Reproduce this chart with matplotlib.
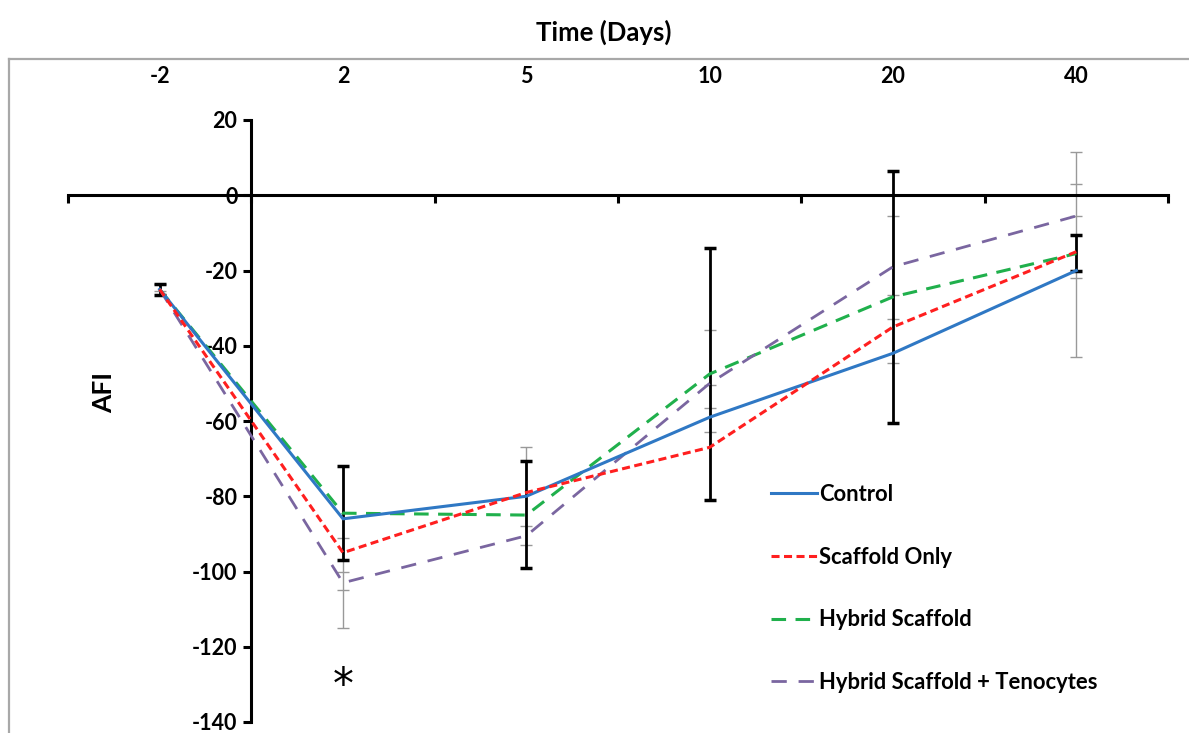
import matplotlib
matplotlib.use('Agg')
import matplotlib.pyplot as plt
import numpy as np

plt.rcParams['font.family'] = ['Lato', 'DejaVu Sans']
plt.rcParams['font.weight'] = 'bold'
plt.rcParams['axes.unicode_minus'] = False
plt.rcParams['lines.scale_dashes'] = False

# 数据
days = ['-2', '2', '5', '10', '20', '40']
control = [-25, -86, -80, -59, -42, -20]
scaffold_only = [-25, -95, -79, -67, -35, -15]
hybrid = [-25, -84.5, -85, -47.5, -27, -15.5]
hybrid_teno = [-25, -103, -90.5, -50, -19, -5.5]

# 误差线 (黑色粗线 / 灰色细线)
black_hi = [-23.5, -72, -70.5, -14, 6.5, -10.5]
black_lo = [-26.5, -97, -99, -81, -60.5, -20]
gray_hi = [-23.5, -91, -66.8, -35.7, -5.5, 11.6]
gray_lo = [-25.5, -115, -93, -63, -44.7, -43]
gray_caps = [[], [-100, -105], [-88], [-50.3, -56.6], [-26.5, -33], [2.9, -5.5, -22]]

W, H = 1189, 733
fig = plt.figure(figsize=(W / 100, H / 100), dpi=100)
ax = fig.add_axes([68 / W, 11 / H, 1100 / W, 602 / H])

x = np.arange(len(days))

# 误差线
ax.vlines(x, gray_lo, gray_hi, color='#999999', lw=1.0, zorder=2)
for i, caps in enumerate(gray_caps):
    vals = [gray_lo[i], gray_hi[i]] + caps
    ax.plot([x[i]] * len(vals), vals, ls='none', marker='_', ms=8, mew=1.0,
            color='#999999', zorder=2)
ax.vlines(x, black_lo, black_hi, color='black', lw=2.0, zorder=3)
ax.plot(x, black_hi, ls='none', marker='_', ms=8, mew=2.5, color='black', zorder=3)
ax.plot(x, black_lo, ls='none', marker='_', ms=8, mew=2.5, color='black', zorder=3)

# 折线
ax.plot(x, control, color='#2F78C4', lw=2.2, label='Control', zorder=5)
ax.plot(x, scaffold_only, color='#FF1F1F', lw=2.2, dashes=(5.8, 3.2),
        label='Scaffold Only', zorder=5)
ax.plot(x, hybrid, color='#20B04C', lw=2.2, dashes=(10.5, 6.8),
        label='Hybrid Scaffold', zorder=4)
ax.plot(x, hybrid_teno, color='#7A66A0', lw=2.0, dashes=(11, 8.5),
        label='Hybrid Scaffold + Tenocytes', zorder=4)

ax.set_xlim(-0.5, len(days) - 0.5)
ax.set_ylim(-140, 20)

# 坐标轴样式
for s in ['top', 'right']:
    ax.spines[s].set_visible(False)
ax.spines['left'].set_position(('data', 0.5))
ax.spines['bottom'].set_position(('data', 0))
ax.spines['left'].set_linewidth(2.2)
ax.spines['bottom'].set_linewidth(2.2)

ax.set_yticks(np.arange(-140, 21, 20))
ax.tick_params(axis='y', direction='out', length=6, width=2.2, pad=4,
               labelsize=15.5)

ax.set_xticks(np.arange(-0.5, len(days), 1.0))
ax.set_xticklabels([])
ax.tick_params(axis='x', which='major', direction='out', length=6, width=2.2)
ax.set_xticks(x, minor=True)
ax.set_xticklabels(days, minor=True)
ax.tick_params(axis='x', which='minor', bottom=False, top=False,
               labelbottom=False, labeltop=True, length=0, pad=24, labelsize=15.5)

# 星号
ax.text(1, -130.5, '*', ha='center', va='center', fontsize=30,
        family='DejaVu Sans', fontweight='normal')

# 标题与轴标签
fig.text(604 / W, 1 - 32 / H, 'Time (Days)', ha='center', va='center', fontsize=18.5)
fig.text(104 / W, 1 - 392 / H, 'AFI', ha='center', va='center', fontsize=19,
         rotation=90)

# 图例
ax.legend(loc='upper left', bbox_to_anchor=(760 / W, 1 - 473 / H),
          bbox_transform=fig.transFigure, frameon=False, fontsize=15.8,
          handlelength=2.1, handletextpad=0.1, labelspacing=1.9, borderpad=0)

# 灰色边框
fig.add_artist(plt.Line2D([9 / W, 1.0], [1 - 59 / H, 1 - 59 / H],
                          transform=fig.transFigure, color='#A8A8A8', lw=1.6))
fig.add_artist(plt.Line2D([9 / W, 9 / W], [0, 1 - 59 / H],
                          transform=fig.transFigure, color='#A8A8A8', lw=1.6))

plt.savefig('out.png', dpi=100)
plt.close()
